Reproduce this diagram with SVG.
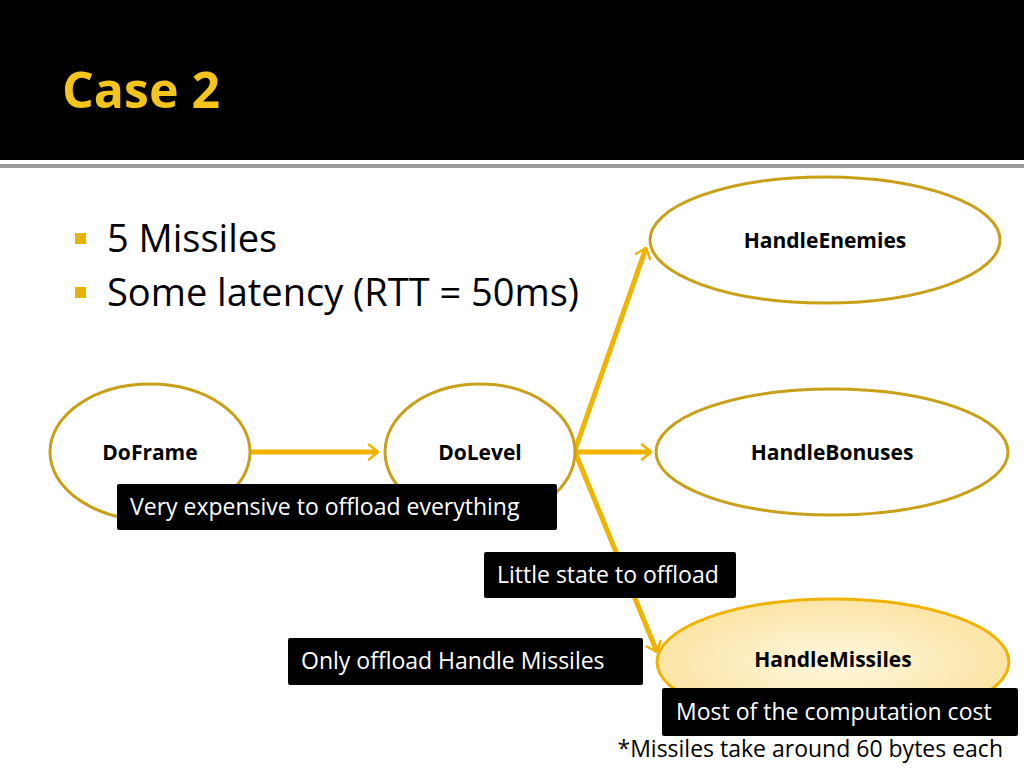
<svg xmlns="http://www.w3.org/2000/svg" width="1024" height="768" viewBox="0 0 1024 768">
<defs>
<style>
.t{font-family:"Open Sans","Liberation Sans",sans-serif}
.n{fill:#fff;stroke:#c9a017;stroke-width:3}
.nl{font-family:"Open Sans","Liberation Sans",sans-serif;font-weight:bold;font-size:21px;fill:#000;text-anchor:middle}
.c{stroke:#f0b400;stroke-width:5;fill:none}
.b{fill:#000}
.bl{font-family:"Open Sans","Liberation Sans",sans-serif;font-size:23px;fill:#fff}
</style>
<marker id="a" viewBox="0 0 10 10" refX="8" refY="5" markerWidth="5" markerHeight="5" orient="auto" markerUnits="userSpaceOnUse" style="overflow:visible">
<path d="M-10,-10 L8,5 L-10,20" transform="scale(1)" fill="none" stroke="#f0b400" stroke-width="5" stroke-linecap="round" stroke-linejoin="round"/>
</marker>
<radialGradient id="g" cx="0.5" cy="0.5" r="0.6"><stop offset="0" stop-color="#fff8de"/><stop offset="1" stop-color="#fbe09a"/></radialGradient>
</defs>
<rect width="1024" height="768" fill="#fff"/>
<rect width="1024" height="160" fill="#000"/>
<rect y="164" width="1024" height="4" fill="#999"/>
<text x="62" y="108" class="t" font-size="50" font-weight="bold" fill="#f2c41c">Case 2</text>
<rect x="75" y="233" width="11" height="11" fill="#e6b400"/>
<rect x="75" y="287" width="11" height="11" fill="#e6b400"/>
<text x="107" y="252" class="t" font-size="38" fill="#000">5 Missiles</text>
<text x="107" y="306" class="t" font-size="38" fill="#000">Some latency (RTT = 50ms)</text>
<g id="connectors">
<line class="c" x1="250" y1="452" x2="378" y2="452" marker-end="url(#a)"/>
<line class="c" x1="575" y1="450" x2="646" y2="248" marker-end="url(#a)"/>
<line class="c" x1="575" y1="452" x2="651" y2="452" marker-end="url(#a)"/>
<line class="c" x1="575" y1="452" x2="657" y2="652" marker-end="url(#a)"/>
</g>
<g id="HandleEnemies"><ellipse class="n" cx="825" cy="240" rx="175" ry="63"/><text class="nl" x="825" y="248">HandleEnemies</text></g>
<g id="HandleBonuses"><ellipse class="n" cx="832" cy="452" rx="176" ry="63"/><text class="nl" x="832" y="460">HandleBonuses</text></g>
<g id="HandleMissiles"><ellipse cx="833" cy="662" rx="176" ry="63" fill="url(#g)" stroke="#f0b400" stroke-width="3"/><text class="nl" x="833" y="667">HandleMissiles</text></g>
<g id="DoFrame"><ellipse class="n" cx="150" cy="452" rx="100" ry="68"/><text class="nl" x="150" y="460">DoFrame</text></g>
<g id="DoLevel"><ellipse class="n" cx="480" cy="452" rx="95" ry="68"/><text class="nl" x="480" y="460">DoLevel</text></g>
<g id="label1"><rect class="b" x="117" y="484" width="440" height="46" rx="2"/><text class="bl" x="130" y="515">Very expensive to offload everything</text></g>
<g id="label2"><rect class="b" x="484" y="552" width="252" height="46" rx="2"/><text class="bl" x="497" y="583">Little state to offload</text></g>
<g id="label3"><rect class="b" x="288" y="638" width="355" height="47" rx="2"/><text class="bl" x="301" y="669">Only offload Handle Missiles</text></g>
<g id="label4"><rect class="b" x="662" y="688" width="356" height="48" rx="2"/><text class="bl" x="676" y="720">Most of the computation cost</text></g>
<text x="1003" y="757" class="t" font-size="23" fill="#000" text-anchor="end">*Missiles take around 60 bytes each</text>
</svg>
